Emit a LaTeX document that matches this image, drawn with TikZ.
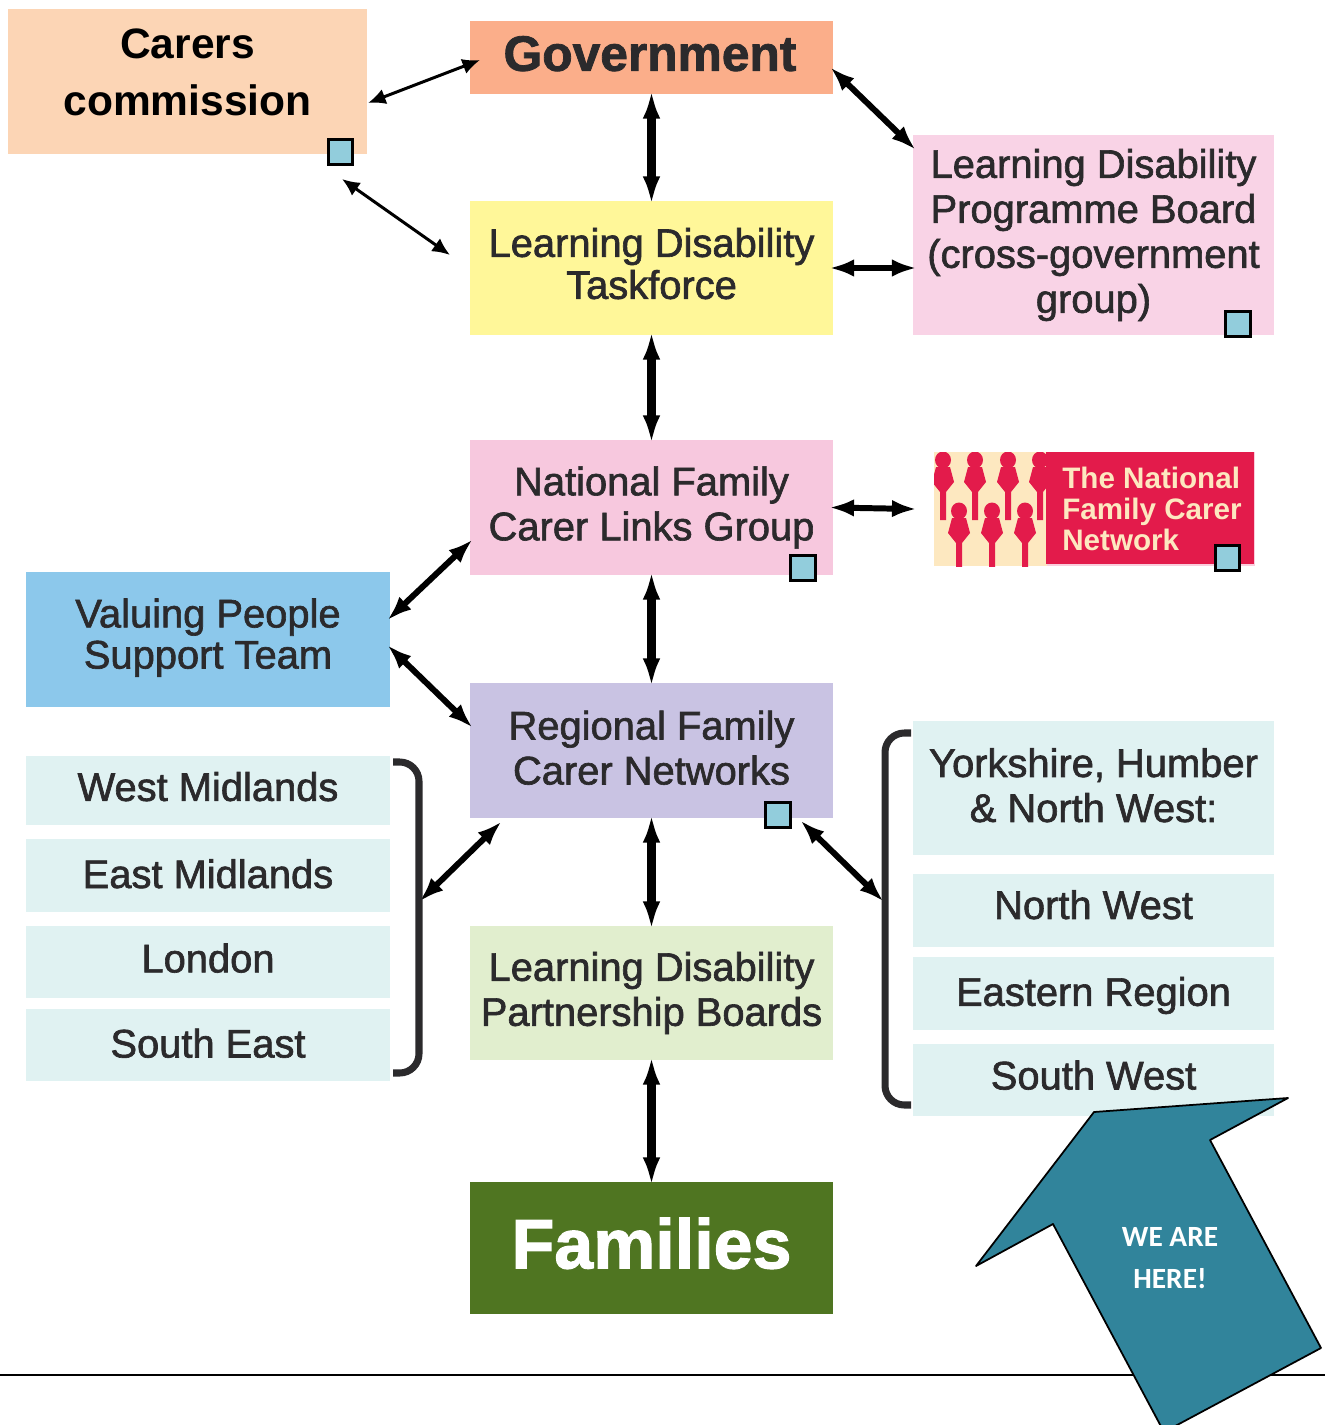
\documentclass[tikz,border=0pt]{standalone}
\usepackage{fontspec}
\setmainfont{Liberation Sans}
\newfontfamily\boxfont[FakeBold=1.6]{Liberation Sans}
\newfontfamily\herefont{Carlito}
\usetikzlibrary{arrows.meta}
\definecolor{boxtext}{HTML}{2B2A2C}
\definecolor{pale}{HTML}{E0F2F2}
\definecolor{tick}{HTML}{92CDDC}
\definecolor{logored}{HTML}{E31B4B}
\definecolor{logocream}{HTML}{FDE8C0}
\definecolor{logopink}{HTML}{FACDDC}
\definecolor{hereblue}{HTML}{31849B}
\tikzset{
    box/.style={inner sep=0pt, outer sep=0pt, align=center, text=boxtext, minimum width=363*0.569pt, font=\boxfont\fontsize{22.7}{25.6}\selectfont},
    region/.style={box, fill=pale},
    tickbox/.style={draw=black, line width=1.5pt, fill=tick, minimum size=24.5*0.569pt, inner sep=0pt},
    link/.style={line width=5pt, black, shorten >=-2pt, shorten <=-2pt, >={Latex[length=16pt,width=10pt]}},
    slantlink/.style={line width=3.4pt, black, shorten >=-2pt, shorten <=-2pt, >={Latex[length=14pt,width=10pt]}},
    thinlink/.style={line width=1.7pt, black, >={Latex[length=10pt,width=9pt]}},
    bracket/.style={line width=4pt, boxtext, rounded corners=11pt},
}
\newcommand{\lift}[1]{\rule[-#1pt]{0pt}{#1pt}}
\newcommand{\carerfig}[2]{%
    \fill[logored] (#1,#2+8) ellipse (8 and 8.5);
    \fill[logored] (#1-7,#2+15) -- (#1+7,#2+15) -- (#1+11,#2+30) -- (#1+3,#2+40) -- (#1+3,#2+68) -- (#1-3,#2+68) -- (#1-3,#2+40) -- (#1-11,#2+30) -- cycle;
}

\begin{document}
\begin{tikzpicture}[x=0.02cm, y=-0.02cm]
    \useasboundingbox (0,0) rectangle (1325,1425);

    \node[box, fill={rgb,255:red,252;green,213;blue,181}, minimum width=359*0.569pt, minimum height=145*0.569pt, text=black, font=\bfseries\fontsize{24.2}{32.4}\selectfont] at (187.5,81.5) (carers) {Carers\\commission\lift{10.2}};
    \node[box, fill={rgb,255:red,251;green,174;blue,138}, minimum height=73*0.569pt, font=\boxfont\bfseries\fontsize{28.3}{32}\selectfont] at (651.5,57.5) (gov) {Government\hspace{1.7pt}\lift{4.6}};
    \node[box, fill={rgb,255:red,255;green,247;blue,153}, minimum height=134*0.569pt, font=\boxfont\fontsize{22.7}{23.9}\selectfont] at (651.5,268) (task) {Learning Disability\\Taskforce\lift{5.2}};
    \node[box, fill={rgb,255:red,249;green,211;blue,230}, minimum width=361*0.569pt, minimum height=200*0.569pt] at (1093.5,235) (prog) {Learning Disability\\Programme Board\\(cross-government\\group)};
    \node[box, fill={rgb,255:red,247;green,200;blue,222}, minimum height=135*0.569pt] at (651.5,507.5) (natl) {National Family\\Carer Links Group};
    \node[box, fill={rgb,255:red,140;green,200;blue,235}, minimum width=364*0.569pt, minimum height=135*0.569pt, font=\boxfont\fontsize{22.7}{23.4}\selectfont] at (208,639.5) (valuing) {Valuing People\\Support Team\lift{6.8}};
    \node[box, fill={rgb,255:red,201;green,195;blue,227}, minimum height=135*0.569pt] at (651.5,750.5) (regional) {Regional Family\\Carer Networks\lift{3.4}};
    \node[box, fill={rgb,255:red,225;green,238;blue,206}, minimum height=134*0.569pt] at (651.5,993) (part) {Learning Disability\\Partnership Boards};
    \node[box, fill={rgb,255:red,79;green,117;blue,33}, minimum height=132*0.569pt, text=white, font=\boxfont\bfseries\fontsize{39.8}{44}\selectfont] at (651.5,1248) (fam) {Families\lift{5.7}};

    \node[region, minimum width=364*0.569pt, minimum height=69*0.569pt] at (208,790.5) (wmid) {West Midlands\lift{4.6}};
    \node[region, minimum width=364*0.569pt, minimum height=73*0.569pt] at (208,875.5) (emid) {East Midlands\lift{2.2}};
    \node[region, minimum width=364*0.569pt, minimum height=72*0.569pt] at (208,962) (lon) {London\lift{4.6}};
    \node[region, minimum width=364*0.569pt, minimum height=72*0.569pt] at (208,1045) (seast) {South East\lift{2.2}};
    \node[region, minimum width=361*0.569pt, minimum height=134*0.569pt] at (1093.5,788) (york) {Yorkshire, Humber\\\& North West:\lift{3.4}};
    \node[region, minimum width=361*0.569pt, minimum height=73*0.569pt] at (1093.5,910.5) (nwest) {North West\lift{6.8}};
    \node[region, minimum width=361*0.569pt, minimum height=73*0.569pt] at (1093.5,993.5) (east) {\rule{0pt}{18.7pt}Eastern Region};
    \node[region, minimum width=361*0.569pt, minimum height=72*0.569pt] at (1093.5,1080) (swest) {South West\lift{5.7}};

    % logo
    \fill[logopink] (934,452) rectangle (1255,566);
    \fill[logocream] (934,452) rectangle (1047,566);
    \fill[logored] (1046,452) rectangle (1254,564);
    \begin{scope}
    \clip (934,452) rectangle (1047,566);
    \foreach \px in {943,975,1008,1040} {\carerfig{\px}{452}}
    \foreach \px in {959,992,1025} {\carerfig{\px}{503}}
    \end{scope}
    \node[anchor=west, inner sep=0pt, align=left, text=logocream, font=\bfseries\fontsize{16.85}{17.7}\selectfont] at (1062,509) (logo) {The National\\Family Carer\\Network};

    \node[tickbox] at (340.5,152) (tick1) {};
    \node[tickbox] at (1238,324) (tick2) {};
    \node[tickbox] at (803,568) (tick3) {};
    \node[tickbox] at (1227.5,558) (tick4) {};
    \node[tickbox] at (778,815) (tick5) {};

    \coordinate (carerA) at (368,103);
    \coordinate (govA) at (480,60);
    \coordinate (carerB) at (342,179);
    \coordinate (taskA) at (450,255);
    \coordinate (logoA) at (913,509);
    \coordinate (regL) at (499,824);
    \coordinate (regR) at (803,823);
    \coordinate (brL) at (422,899);
    \coordinate (brR) at (881,899);

    \path[<->, thinlink] (carerA) edge (govA);
    \path[<->, thinlink] (carerB) edge (taskA);

    \path[<->, link] (gov) edge (task);
    \path[<->, link] (task) edge (natl);
    \path[<->, link] (natl) edge (regional);
    \path[<->, link] (regional) edge (part);
    \path[<->, link] (part) edge (fam);
    \path[<->, slantlink] ([yshift=-7pt]gov.east) edge ([yshift=-7pt]prog.north west);
    \path[<->, slantlink] (task.east) edge (task.east -| prog.west);
    \path[<->, slantlink] (natl.east) edge (logoA);
    \path[<->, slantlink] ([yshift=-26pt]valuing.north east) edge ([yshift=-58pt]natl.north west);
    \path[<->, slantlink] ([yshift=-43pt]valuing.north east) edge ([yshift=-24pt]regional.north west);
    \path[<->, slantlink] (regL) edge (brL);
    \path[<->, slantlink] (regR) edge (brR);

    % brackets
    \draw[bracket] (393,762) -- (419,762) -- (419,1073) -- (393,1073);
    \draw[bracket] (911,733) -- (885,733) -- (885,1105) -- (911,1105);

    % we are here
    \coordinate (ruleA) at (0,1375);
    \coordinate (ruleB) at (1325,1375);
    \draw[line width=1pt, black] (ruleA) -- (ruleB);
    \draw[fill=hereblue, line width=1pt, draw=black, line join=round] (1094,1112) -- (1288,1098) -- (1210,1140) -- (1321,1348) -- (1164,1432) -- (1053,1224) -- (976,1266) -- cycle;
    \node[inner sep=0pt, align=center, text=white, font=\herefont\bfseries\fontsize{16.7}{23.9}\selectfont] at (1170,1258) (here) {WE ARE\\HERE!};
\end{tikzpicture}
\end{document}
